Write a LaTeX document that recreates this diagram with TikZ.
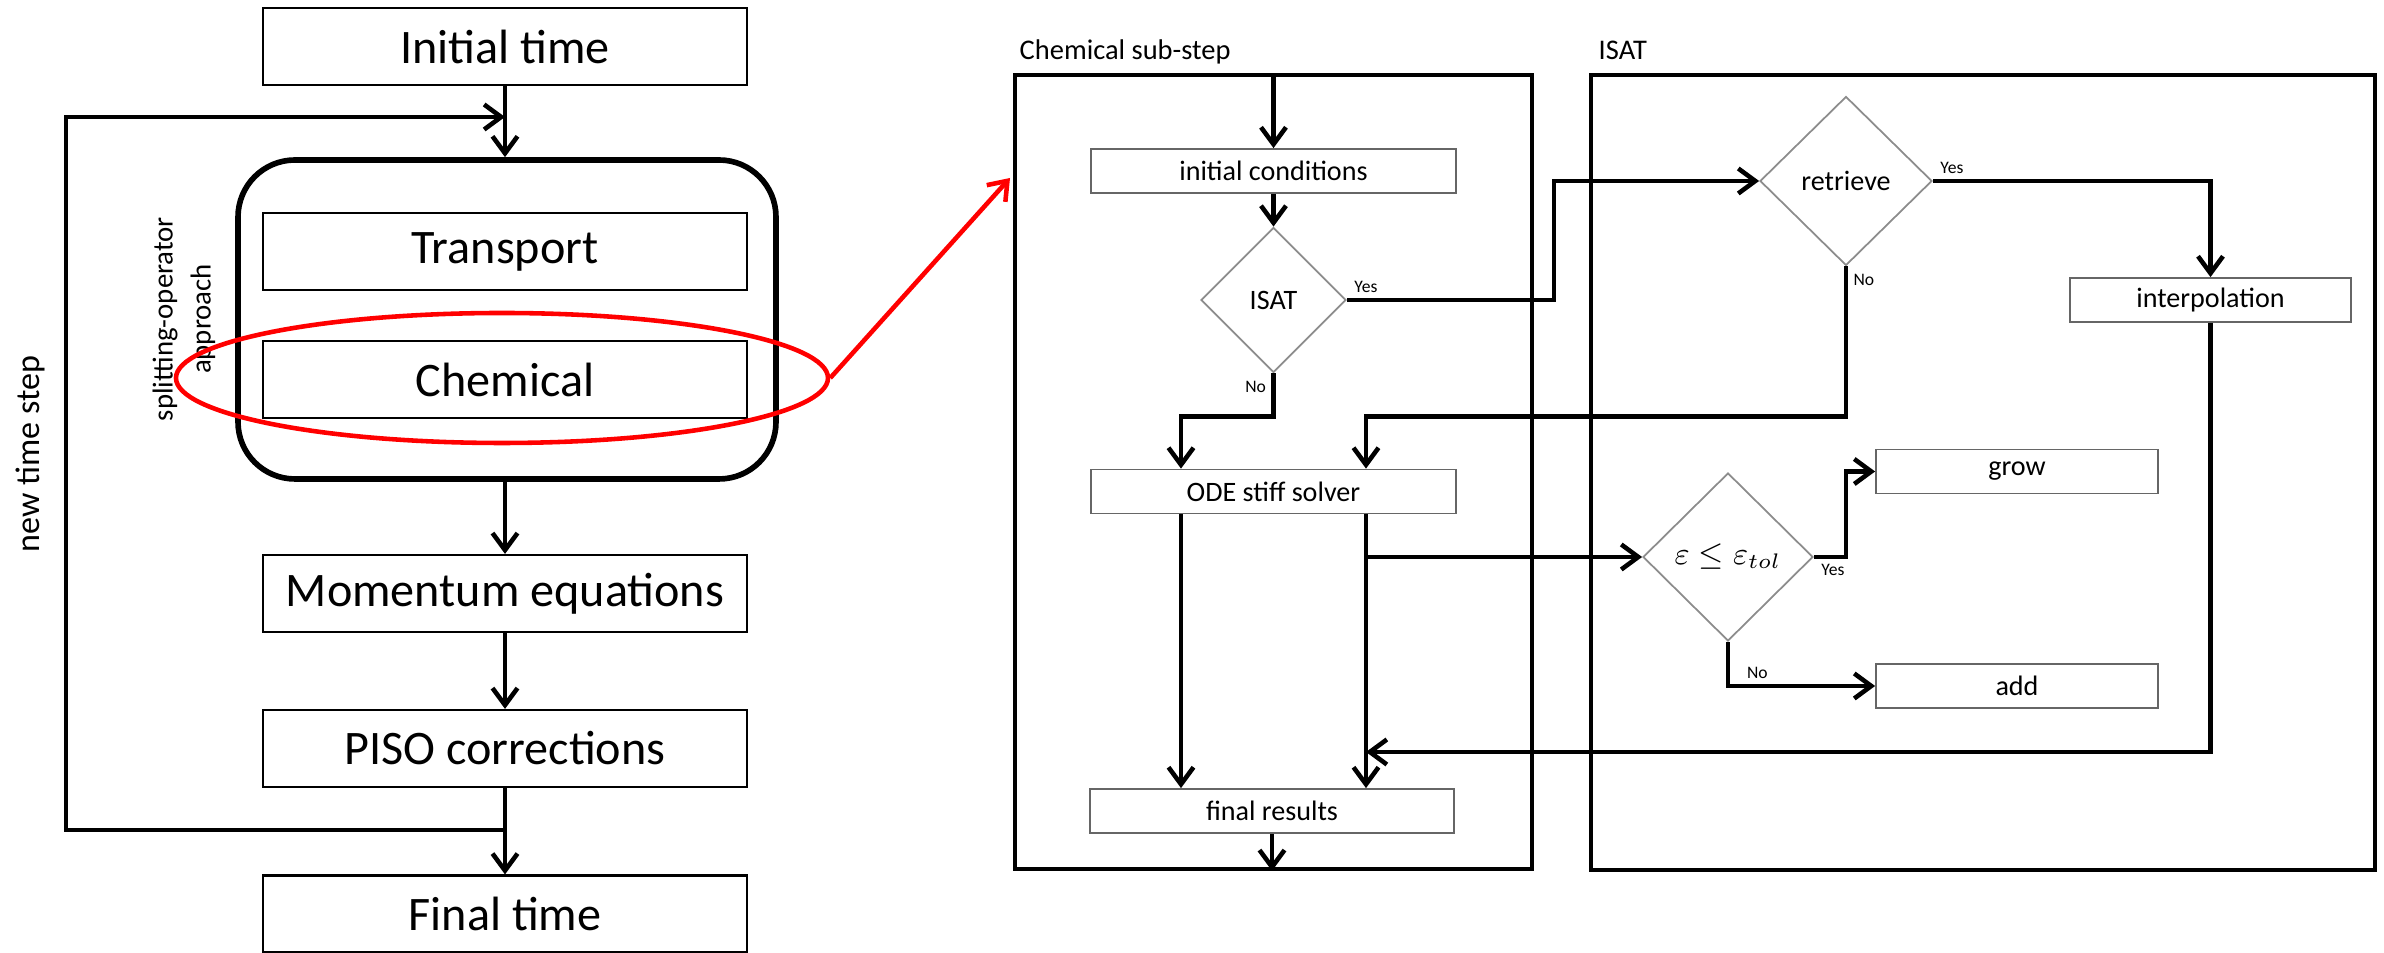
\documentclass[tikz,border=0pt]{standalone}
\usepackage{fontspec}
\setmainfont{Carlito}
\usetikzlibrary{positioning, arrows.meta, shapes.geometric, calc}

\begin{document}
\begin{tikzpicture}[
  x=0.1mm, y=-0.1mm,
  bigbox/.style={draw, line width=0.6pt, minimum width=48.4mm, minimum height=7.7mm,
                 inner sep=0pt, font=\fontsize{13.7}{16}\selectfont},
  stepbox/.style={draw=black!60, line width=0.5pt, minimum height=4.4mm,
                  inner sep=0pt, font=\fontsize{8}{10}\selectfont},
  choice/.style={diamond, draw=black!45, line width=0.5pt, aspect=1,
                 inner sep=0pt, font=\fontsize{8}{10}\selectfont},
  panel/.style={draw, line width=1.1pt},
  tag/.style={inner sep=1.5pt, font=\fontsize{5}{6}\selectfont},
  flow/.style={draw, line width=1.3pt, -{Straight Barb[length=1.7mm, width=2.5mm]}}]

\useasboundingbox (0,0) rectangle (2384,953);

% time loop
\node[bigbox] (init) at (505,46.5) {Initial time};
\node[draw, line width=1.6pt, rounded corners=5.7mm, minimum width=53.8mm,
      minimum height=31.9mm] (split) at (507,319.5) {};
\node[bigbox] (transport) at (505,251.5) {Transport};
\node[bigbox] (chem) at (505,379.5) {Chemical};
\node[bigbox] (momentum) at (505,593.5) {Momentum equations};
\node[bigbox] (piso) at (505,748.5) {PISO corrections};
\node[bigbox] (final) at (505,914) {Final time};
\node[rotate=90, align=center, font=\fontsize{8.2}{10.8}\selectfont] (splitlbl) at (184,319)
  {splitting-operator\\approach};
\node[rotate=90, font=\fontsize{9.7}{12}\selectfont] (newstep) at (30,454) {new time step};
\coordinate (loopback) at (66,830);
\coordinate (loopin) at (66,117);

\draw[flow] (init.south) -- (init.south |- split.north);
\draw[flow] (split.south -| momentum) -- (momentum);
\draw[flow] (momentum) -- (piso);
\draw[flow] (piso) -- (final);
\draw[flow] (piso.south |- loopback) -- (loopback) -- (loopin) -- (init.south |- loopin);

% zoom to the sub-step
\node[ellipse, draw=red, line width=1.3pt, minimum width=65.2mm, minimum height=13mm,
      inner sep=0pt] (focus) at (502,378) {};
\coordinate (zoomtip) at (1010,178);
\draw[red, line width=1.3pt, -{Straight Barb[length=1.7mm, width=2.5mm]}] (focus.east) -- (zoomtip);

% panels
\node[panel, minimum width=51.7mm, minimum height=79.4mm] (sub) at (1273.5,472) {};
\node[panel, minimum width=78.4mm, minimum height=79.5mm] (isatbox) at (1983,472.5) {};
\node[anchor=base west, inner sep=0pt, font=\fontsize{8.1}{10}\selectfont] (sublbl) at (1019,60) {Chemical sub-step};
\node[anchor=base west, inner sep=0pt, font=\fontsize{8.1}{10}\selectfont] (isatlbl) at (1598,60) {ISAT};

% chemical sub-step
\node[stepbox, minimum width=36.5mm] (cond) at (1273.5,171) {initial conditions};
\node[choice, minimum width=14.5mm, minimum height=14.5mm] (isat) at (1273.5,300) {ISAT};
\node[stepbox, minimum width=36.5mm] (ode) at (1273.5,491.5) {ODE stiff solver};
\node[stepbox, minimum width=36.4mm] (fin) at (1272,811) {final results};
\coordinate (laneL) at (1181,0);
\coordinate (laneR) at (1366,0);
\coordinate (rejoin) at (1366,752);

% ISAT table
\node[choice, minimum width=17.2mm, minimum height=16.9mm] (retr) at (1846,181) {retrieve};
\node[stepbox, minimum width=28.1mm] (interp) at (2210.5,300) {interpolation};
\node[choice, minimum width=17mm, minimum height=16.8mm, font=\fontsize{9}{11}\selectfont] (tol)
  at (1728,557) {$\varepsilon \leq \varepsilon_{tol}$};
\node[stepbox, minimum width=28.2mm] (grow) at (2017,471.5) {grow};
\node[stepbox, minimum width=28.2mm] (add) at (2017,686) {add};

\draw[flow] (sub.north -| cond) -- (cond);
\draw[flow] (cond) -- (isat);
\draw[flow] (isat.east) node[tag, above right] {Yes} -- ++(207,0) |- (retr.west);
\draw[flow] (isat.south) node[tag, below left] {No} -- ++(0,43) -| (laneL |- ode.north);
\draw[flow] (retr.south) node[tag, below right] {No} -- ++(0,150) -| (laneR |- ode.north);
\draw[flow] (retr.east) node[tag, above right] {Yes} -| (interp.north);
\draw[flow] (laneL |- ode.south) -- (laneL |- fin.north);
\draw[flow] (laneR |- ode.south) -- (laneR |- fin.north);
\draw[flow] (laneR |- tol.west) -- (tol.west);
\draw[flow] (tol.east) node[tag, below right] {Yes} -- ++(32,0) |- (grow.west);
\draw[flow] (tol.south) |- node[tag, pos=0.6, above] {No} (add.west);
\draw[flow] (interp.south) |- (rejoin);
\draw[flow] (fin.south) -- (fin.south |- sub.south);
\end{tikzpicture}
\end{document}
